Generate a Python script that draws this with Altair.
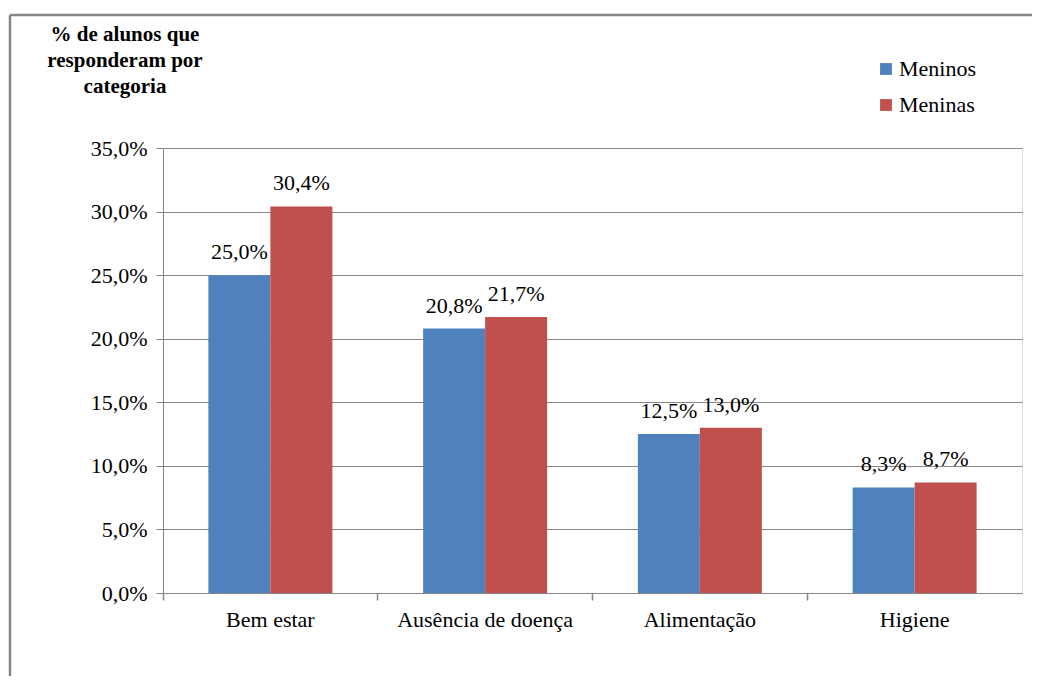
import altair as alt
import pandas as pd

categories = ["Bem estar", "Ausência de doença", "Alimentação", "Higiene"]
meninos = [25.0, 20.8, 12.5, 8.3]
meninas = [30.4, 21.7, 13.0, 8.7]
series = ["Meninos", "Meninas"]
colors = ["#4F81BD", "#C0504D"]
title_lines = ["% de alunos que", "responderam por", "categoria"]

rows = []
for c, a, b in zip(categories, meninos, meninas):
    rows.append({"cat": c, "serie": "Meninos", "val": a})
    rows.append({"cat": c, "serie": "Meninas", "val": b})
df = pd.DataFrame(rows)
df["label"] = df["val"].map(lambda v: f"{v:.1f}".replace(".", ",") + "%")

FONT = "Liberation Serif, DejaVu Serif, serif"

x_enc = alt.X("cat:N", sort=categories, title=None,
              scale=alt.Scale(paddingInner=0, paddingOuter=0),
              axis=alt.Axis(labelAngle=0, labelFont=FONT, labelFontSize=22, labelColor="#000",
                            domainColor="#868686", tickColor="#868686", tickSize=7, tickWidth=1.5,
                            bandPosition=0, labelPadding=9))
xo_enc = alt.XOffset("serie:N", sort=series,
                     scale=alt.Scale(paddingInner=0, paddingOuter=0.732))
y_enc = alt.Y("val:Q", title=None,
              scale=alt.Scale(domain=[0, 35]),
              axis=alt.Axis(values=[0, 5, 10, 15, 20, 25, 30, 35],
                            labelExpr="replace(format(datum.value, '.1f'), '.', ',') + '%'",
                            labelFont=FONT, labelFontSize=22, labelColor="#000",
                            gridColor="#868686", domainColor="#868686", tickColor="#868686",
                            tickSize=7, labelPadding=9))

base = alt.Chart(df)
bars = base.mark_bar().encode(
    x=x_enc, xOffset=xo_enc, y=y_enc,
    color=alt.Color("serie:N", sort=series, title=None,
                    scale=alt.Scale(domain=series, range=colors),
                    legend=alt.Legend(orient="none", legendX=712, legendY=-90,
                                      symbolType="square", symbolSize=140, symbolStrokeWidth=0,
                                      labelFont=FONT, labelFontSize=22, labelColor="#000",
                                      rowPadding=14, labelOffset=2)),
)
texts = base.mark_text(baseline="bottom", dy=-11, font=FONT, fontSize=22, color="#000").encode(
    x=x_enc, xOffset=xo_enc, y=y_enc, text="label:N"
)

one = alt.Chart(pd.DataFrame({"k": [0]}))
title = one.mark_text(font=FONT, fontSize=21, fontWeight="bold", align="center",
                      baseline="top", lineHeight=26, color="#000").encode(
    x=alt.value(-38), y=alt.value(-124), text=alt.value(title_lines)
)
frame_top = one.mark_rule(color="#868686", strokeWidth=2.5).encode(
    x=alt.value(-153), x2=alt.value(1100), y=alt.value(-133)
)
frame_left = one.mark_rule(color="#868686", strokeWidth=2.5).encode(
    x=alt.value(-153), y=alt.value(-133), y2=alt.value(600)
)

chart = alt.layer(bars, texts, title, frame_top, frame_left).properties(
    width=859, height=445,
    autosize=alt.AutoSizeParams(type="none"),
    padding={"left": 155, "top": 140, "right": 10, "bottom": 83},
).configure_view(stroke=None).configure(background="white")

chart.save("out.html", embed_options={"renderer": "svg", "actions": False})
